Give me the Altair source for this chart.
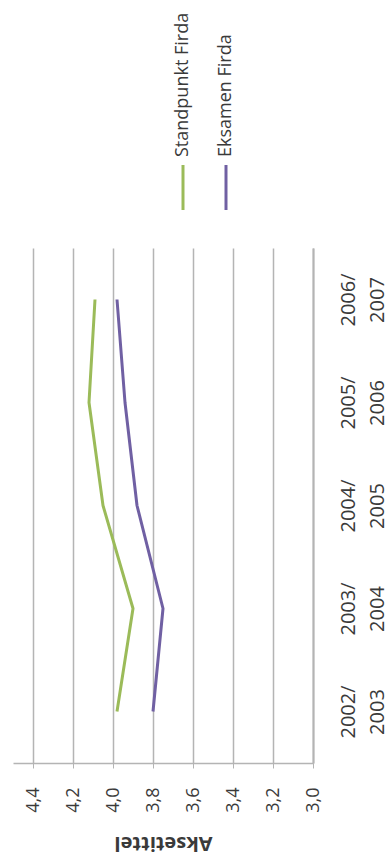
import altair as alt
import pandas as pd

# School years and average grades per series
years = ["2002/2003", "2003/2004", "2004/2005", "2005/2006", "2006/2007"]
standpunkt = [3.98, 3.90, 4.05, 4.12, 4.09]
eksamen = [3.80, 3.75, 3.88, 3.94, 3.98]
series = ["Standpunkt Firda", "Eksamen Firda"]
colors = ["#9bbb59", "#7060a3"]
value_ticks = [3.0, 3.2, 3.4, 3.6, 3.8, 4.0, 4.2, 4.4]

FONT = "Open Sans"
TEXT = "#3a3a3a"
GRID = "#b4b4b4"

rows = []
for name, vals in zip(series, [standpunkt, eksamen]):
    for i, (yr, v) in enumerate(zip(years, vals)):
        rows.append({"series": name, "year": yr, "idx": i, "value": v})
df = pd.DataFrame(rows)

legend_df = pd.DataFrame({"series": series})

color_scale = alt.Scale(domain=series, range=colors)

# Legend drawn as its own small panel above the plot
legend_x = alt.X("series:N", scale=alt.Scale(type="point", domain=series,
                                              range=[170, 213], padding=0),
                 axis=None)
legend_text = alt.Chart(legend_df).mark_text(
    angle=270, align="left", baseline="middle", font=FONT, fontSize=18,
    color=TEXT
).encode(x=legend_x, y=alt.value(157), text="series:N")
legend_sym = alt.Chart(legend_df).mark_rule(strokeWidth=3).encode(
    x=legend_x, y=alt.value(165), y2=alt.value(210),
    color=alt.Color("series:N", scale=color_scale, legend=None)
)
legend = alt.layer(legend_sym, legend_text).properties(width=300, height=228)

lines = alt.Chart(df).mark_line(strokeWidth=3, strokeJoin="round").encode(
    x=alt.X("value:Q",
            scale=alt.Scale(domain=[3.0, 4.5], reverse=True, nice=False, zero=False),
            axis=alt.Axis(values=value_ticks, orient="bottom",
                          labelExpr="replace(format(datum.value, '.1f'), '.', ',')",
                          labelAngle=270, labelAlign="right", labelBaseline="middle",
                          labelPadding=19, labelFontSize=18, labelColor=TEXT,
                          tickSize=5, tickColor=GRID, domainColor=GRID, domainWidth=1.5,
                          grid=True, gridColor=GRID, gridWidth=1.5,
                          title="Aksetittel", titleAngle=180, titleBaseline="bottom",
                          titleFontSize=20, titleFontWeight="bold", titleColor=TEXT,
                          titlePadding=20)),
    y=alt.Y("year:N", sort=list(reversed(years)),
            axis=alt.Axis(orient="right", title=None,
                          labelExpr="[slice(datum.label, 0, 5), slice(datum.label, 5)]",
                          labelAngle=270, labelAlign="center", labelBaseline="top",
                          labelPadding=25, labelFontSize=20, labelLineHeight=29,
                          labelColor=TEXT, labelOverlap=False, labelBound=False,
                          tickSize=0, domainColor=GRID, domainWidth=2, grid=False)),
    color=alt.Color("series:N", scale=color_scale, legend=None),
    order=alt.Order("idx:Q"),
).properties(width=300, height=515)

chart = alt.vconcat(legend, lines, spacing=20).properties(
    padding={"left": 13, "top": 0, "right": 2, "bottom": 6}
).configure_view(stroke=None).configure_axis(labelFont=FONT, titleFont=FONT)

chart.save("out.html", embed_options={"renderer": "svg", "actions": False})
